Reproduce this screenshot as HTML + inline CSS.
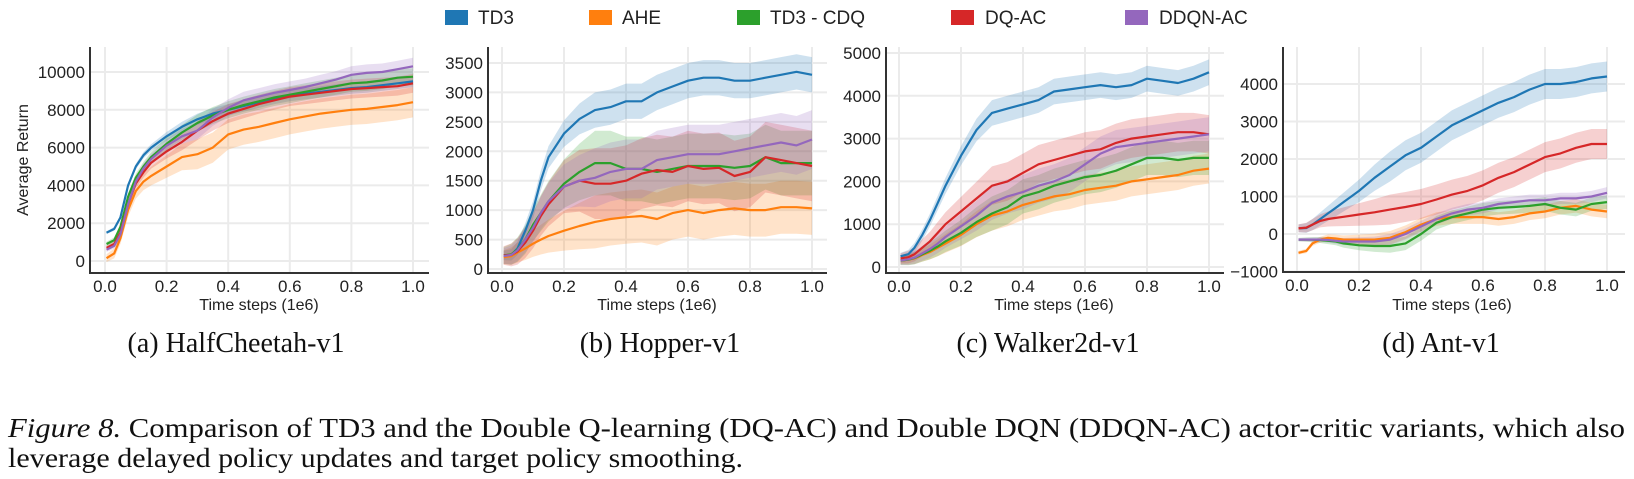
<!DOCTYPE html>
<html><head><meta charset="utf-8"><style>
html,body{margin:0;padding:0;background:#fff;}
svg{display:block;}
.sans{font-family:"Liberation Sans", Arial, sans-serif;}
.serif{font-family:"Liberation Serif", "Times New Roman", serif;}
</style></head><body>
<svg id="fig" width="1634" height="479" viewBox="0 0 1634 479" xmlns="http://www.w3.org/2000/svg">
<g id="legend" class="sans" font-size="19" fill="#222">
 <g><rect x="445" y="10" width="23" height="15" fill="#1f77b4"/><text x="478" y="24">TD3</text></g>
 <g><rect x="589" y="10" width="23" height="15" fill="#ff7f0e"/><text x="622" y="24">AHE</text></g>
 <g><rect x="737" y="10" width="23" height="15" fill="#2ca02c"/><text x="770" y="24">TD3 - CDQ</text></g>
 <g><rect x="951" y="10" width="23" height="15" fill="#d62728"/><text x="985" y="24">DQ-AC</text></g>
 <g><rect x="1125" y="10" width="23" height="15" fill="#9467bd"/><text x="1159" y="24">DDQN-AC</text></g>
</g>
<g class="serif" font-size="28" fill="#111" text-anchor="middle">
 <text x="236" y="352">(a) HalfCheetah-v1</text>
 <text x="660" y="352">(b) Hopper-v1</text>
 <text x="1048" y="352">(c) Walker2d-v1</text>
 <text x="1441" y="352">(d) Ant-v1</text>
</g>
<g class="serif" font-size="27" fill="#111">
 <text x="8" y="437" textLength="1617" lengthAdjust="spacingAndGlyphs"><tspan font-style="italic">Figure 8.</tspan> Comparison of TD3 and the Double Q-learning (DQ-AC) and Double DQN (DDQN-AC) actor-critic variants, which also</text>
 <text x="8" y="467" textLength="735" lengthAdjust="spacingAndGlyphs">leverage delayed policy updates and target policy smoothing.</text>
</g>
</svg>
<script>
const xs = [0.005,0.03,0.05,0.075,0.1,0.125,0.15,0.2,0.25,0.3,0.35,0.4,0.45,0.5,0.55,0.6,0.65,0.7,0.75,0.8,0.85,0.9,0.95,1.0];
const seriesNames = ["TD3","AHE","TD3-CDQ","DQ-AC","DDQN-AC"];
const colors = ["#1f77b4","#ff7f0e","#2ca02c","#d62728","#9467bd"];
const xTicks = [0,0.2,0.4,0.6,0.8,1.0];
const xTickLabels = ["0.0","0.2","0.4","0.6","0.8","1.0"];

const a_td3 = [1500,1700,2300,4000,5000,5600,6000,6600,7100,7500,7800,8000,8200,8400,8600,8750,8850,8950,9050,9150,9200,9300,9400,9500];
const a_ahe = [150,400,1200,2700,3700,4200,4500,5000,5500,5650,6000,6700,6950,7100,7300,7500,7650,7800,7900,8000,8050,8150,8250,8400];
const a_cdq = [900,1100,1800,3400,4400,5000,5500,6200,6800,7300,7700,8000,8250,8450,8650,8800,8950,9100,9250,9400,9450,9550,9700,9750];
const a_dq = [700,900,1500,3000,4100,4700,5200,5800,6300,6900,7400,7800,8050,8300,8500,8700,8800,8900,9000,9100,9150,9200,9250,9400];
const a_ddqn = [600,800,1400,3000,4200,4900,5400,6100,6600,6900,7600,8100,8500,8700,8900,9050,9200,9400,9600,9850,9950,10000,10150,10300];
const a_band = [300,800,450,500,450];
const a_yTicks = [0,2000,4000,6000,8000,10000];

const b_td3 = [230,240,350,650,1000,1500,1900,2300,2550,2700,2750,2850,2850,3000,3100,3200,3250,3250,3200,3200,3250,3300,3350,3300];
const b_ahe = [200,220,280,350,430,500,560,650,730,800,850,880,900,850,950,1000,950,1000,1030,1000,1000,1050,1050,1030];
const b_cdq = [230,250,330,500,750,950,1150,1450,1650,1800,1800,1700,1700,1650,1700,1750,1750,1750,1720,1750,1900,1800,1800,1800];
const b_dq = [230,240,300,450,650,900,1100,1400,1500,1450,1450,1500,1620,1680,1650,1750,1700,1720,1580,1650,1900,1850,1800,1750];
const b_ddqn = [220,240,320,500,700,950,1150,1400,1500,1550,1650,1700,1700,1850,1900,1950,1950,1950,2000,2050,2100,2150,2100,2200];
const b_band = [300,450,550,600,500];
const b_yTicks = [0,500,1000,1500,2000,2500,3000,3500];

const c_td3 = [250,300,450,750,1100,1500,1900,2600,3200,3600,3700,3800,3900,4100,4150,4200,4250,4200,4250,4400,4350,4300,4400,4550];
const c_ahe = [150,170,200,280,350,450,550,750,1000,1200,1300,1450,1550,1650,1700,1800,1850,1900,2000,2050,2100,2150,2250,2300];
const c_cdq = [150,170,210,300,380,480,600,800,1050,1250,1400,1650,1750,1900,2000,2100,2150,2250,2400,2550,2550,2500,2550,2550];
const c_dq = [200,230,300,450,600,800,1000,1300,1600,1900,2000,2200,2400,2500,2600,2700,2750,2900,3000,3050,3100,3150,3150,3100];
const c_ddqn = [150,180,220,320,420,550,700,950,1200,1500,1650,1750,1900,2000,2150,2400,2650,2800,2850,2900,2950,3000,3050,3100];
const c_band = [300,350,400,450,400];
const c_yTicks = [0,1000,2000,3000,4000,5000];

const d_td3 = [150,160,250,400,550,700,850,1150,1500,1800,2100,2300,2600,2900,3100,3300,3500,3650,3850,4000,4000,4050,4150,4200];
const d_ahe = [-500,-450,-250,-150,-100,-120,-150,-150,-150,-100,50,250,400,450,450,450,400,450,550,600,700,750,650,600];
const d_cdq = [-150,-150,-150,-160,-180,-200,-250,-300,-320,-320,-250,0,300,450,550,650,700,720,750,800,700,650,800,850];
const d_dq = [150,170,250,350,400,430,460,520,580,650,720,800,920,1050,1150,1300,1500,1650,1850,2050,2150,2300,2400,2400];
const d_ddqn = [-150,-150,-150,-150,-160,-180,-200,-200,-200,-150,0,200,400,550,650,700,800,850,900,900,950,950,1000,1100];
const d_band = [400,180,180,400,150];
const d_yTicks = [-1000,0,1000,2000,3000,4000];

const NS = "http://www.w3.org/2000/svg";
const svg = document.getElementById('fig');
function mk(tag, attrs, parent){ const e=document.createElementNS(NS,tag); for(const k in attrs) e.setAttribute(k,attrs[k]); parent.appendChild(e); return e; }

const panels = [
 {id:"a", series:[a_td3,a_ahe,a_cdq,a_dq,a_ddqn], band:a_band, yTicks:a_yTicks, left:90, right:429, top:47, bottom:273, x0px:105, x1px:413, v0:0, v0px:261, v1:10000, v1px:72, ytitle:true},
 {id:"b", series:[b_td3,b_ahe,b_cdq,b_dq,b_ddqn], band:b_band, yTicks:b_yTicks, left:488, right:827, top:47, bottom:273, x0px:502, x1px:812, v0:0, v0px:269, v1:3500, v1px:63},
 {id:"c", series:[c_td3,c_ahe,c_cdq,c_dq,c_ddqn], band:c_band, yTicks:c_yTicks, left:886, right:1224, top:47, bottom:273, x0px:899, x1px:1209, v0:0, v0px:267, v1:5000, v1px:53},
 {id:"d", series:[d_td3,d_ahe,d_cdq,d_dq,d_ddqn], band:d_band, yTicks:d_yTicks, left:1283, right:1625, top:47, bottom:272, x0px:1297, x1px:1607, v0:0, v0px:234, v1:4000, v1px:84}
];

panels.forEach(p=>{
  const g = mk('g',{},svg);
  
  
  const X = t => p.x0px + t*(p.x1px-p.x0px);
  const Y = v => p.v0px + (v-p.v0)*(p.v1px-p.v0px)/(p.v1-p.v0);
  xTicks.forEach((t,i)=>{
    const l = mk('line',{x1:X(t),x2:X(t),y1:p.top,y2:p.bottom,stroke:"#ebebeb","stroke-width":2},g);
    
    
    const tx = mk('text',{x:X(t),y:p.bottom+19,"text-anchor":"middle","class":"sans","font-size":17,fill:"#222"},g);
    tx.textContent = xTickLabels[i];
    
    
  });
  p.yTicks.forEach(v=>{
    const l = mk('line',{x1:p.left,x2:p.right,y1:Y(v),y2:Y(v),stroke:"#ebebeb","stroke-width":2},g);
    
    
    const tx = mk('text',{x:p.left-5,y:Y(v)+6,"text-anchor":"end","class":"sans","font-size":17,fill:"#222"},g);
    tx.textContent = v<0 ? "\u2212"+Math.abs(v) : String(v);
    
    
  });
  p.series.forEach((s,k)=>{
    const hw = p.band[k];
    const w = t => hw*(0.25+0.75*Math.min(1,t/0.3));
    let up = xs.map((t,i)=>X(t).toFixed(1)+","+Y(s[i]+w(t)).toFixed(1));
    let lo = xs.map((t,i)=>X(t).toFixed(1)+","+Y(s[i]-w(t)).toFixed(1)).reverse();
    const b = mk('polygon',{points:up.concat(lo).join(" "),fill:colors[k],"fill-opacity":0.22,stroke:"none"},g);
    
    
  });
  p.series.forEach((s,k)=>{
    const pts = xs.map((t,i)=>X(t).toFixed(1)+","+Y(s[i]).toFixed(1)).join(" ");
    const l = mk('polyline',{points:pts,fill:"none",stroke:colors[k],"stroke-width":2.2,"stroke-linejoin":"round"},g);
    
    
  });
  const sp = mk('path',{d:`M${p.left},${p.top} L${p.left},${p.bottom} L${p.right},${p.bottom}`,fill:"none",stroke:"#333","stroke-width":2},g);
  
  
  const xt = mk('text',{x:(p.x0px+p.x1px)/2,y:310,"text-anchor":"middle","class":"sans","font-size":16,fill:"#222"},g);
  xt.textContent = "Time steps (1e6)";
  
  
  if(p.ytitle){
    const yt = mk('text',{x:0,y:0,transform:"translate(28,160) rotate(-90)","text-anchor":"middle","class":"sans","font-size":16,fill:"#222"},g);
    yt.textContent = "Average Return";
    
    
  }
});
</script>
</body></html>
